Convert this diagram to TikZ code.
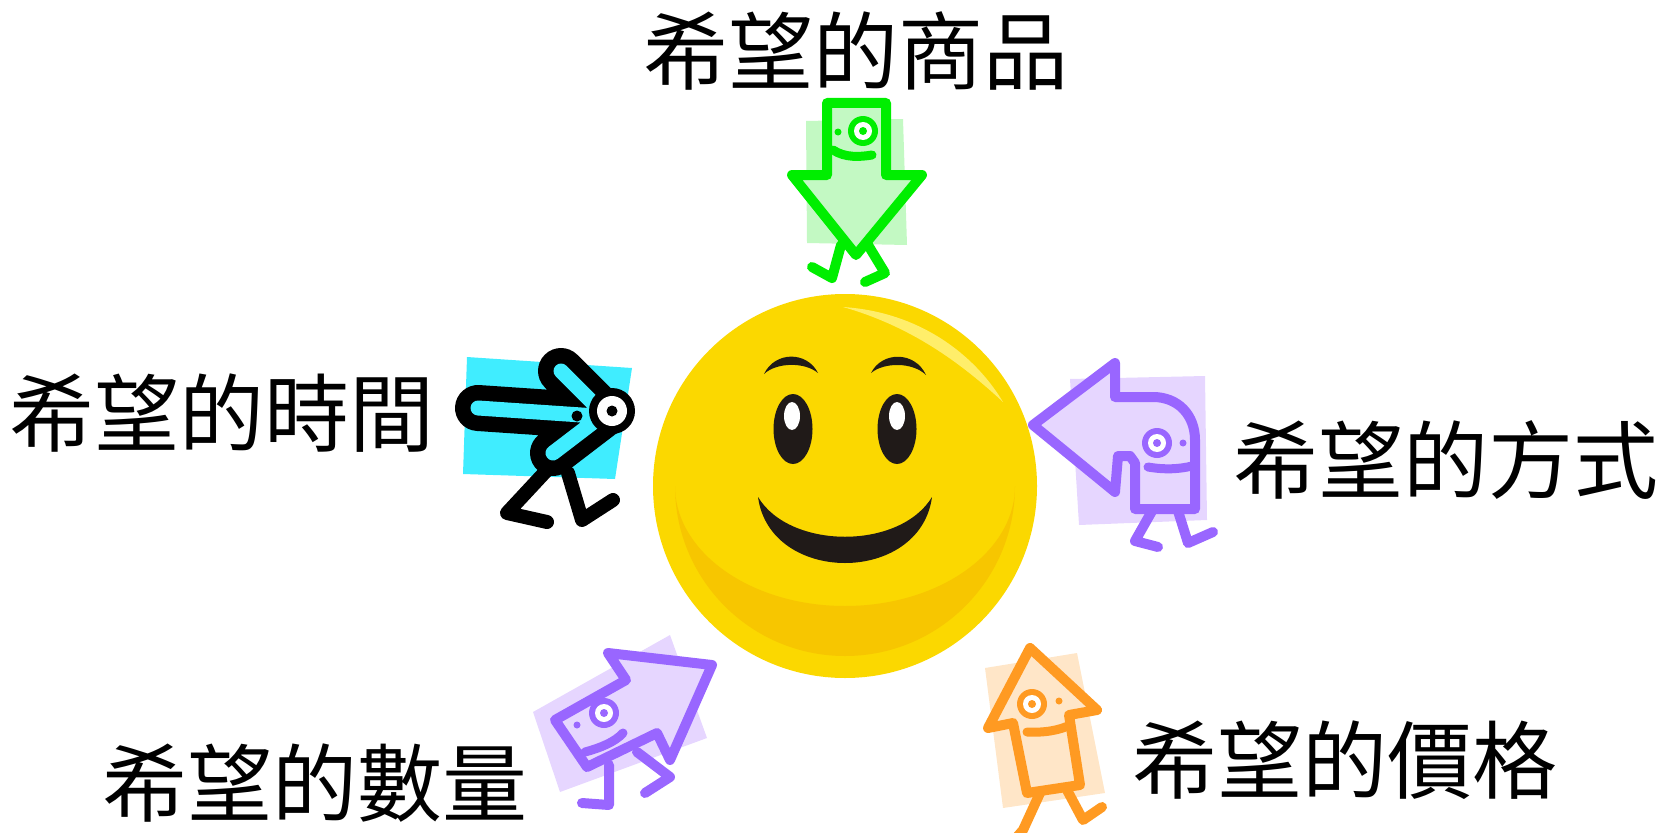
\documentclass[tikz,border=0pt]{standalone}
\usepackage{fontspec}
\newfontfamily\cjk{Noto Sans CJK TC}
\definecolor{sunface}{HTML}{FBD800}
\definecolor{sunshade}{HTML}{F7C600}
\definecolor{sunshine}{HTML}{FFEE6A}
\definecolor{facedark}{HTML}{201A18}
\definecolor{grline}{HTML}{00EE00}
\definecolor{grfill}{HTML}{C3F9C3}
\definecolor{cyfill}{HTML}{40EDFF}
\definecolor{puline}{HTML}{9966FF}
\definecolor{pufill}{HTML}{E6D6FF}
\definecolor{orline}{HTML}{FF9A22}
\definecolor{orfill}{HTML}{FFE6C8}
\begin{document}
\begin{tikzpicture}[x=1pt,y=-1pt,
  caption/.style={font=\cjk\fontsize{85pt}{85pt}\selectfont, inner sep=0pt},
  outline/.style={line width=#1, line join=round, line cap=round},
]
\useasboundingbox (0,0) rectangle (1661,832);

% ---- smiling face ----
\fill[sunface] (845,486) circle[radius=192pt];
\begin{scope}
  \clip (670,486) rectangle (1020,700);
  \fill[sunshade, even odd rule] (845,486) circle[radius=170pt]
    (845,486) ellipse[x radius=170pt, y radius=120pt];
\end{scope}
\fill[sunshine] (843,307) .. controls (920,312) and (975,355) .. (1003,402)
  .. controls (960,362) and (910,326) .. (843,307) -- cycle;
\fill[facedark] (764,374) .. controls (775,351) and (807,351) .. (818,373)
  .. controls (805,362) and (777,362) .. (764,374) -- cycle;
\fill[facedark] (871,373) .. controls (882,351) and (915,351) .. (926,375)
  .. controls (913,362) and (884,362) .. (871,373) -- cycle;
\fill[facedark] (793,429) ellipse[x radius=19.5pt, y radius=35pt];
\fill[facedark] (897,429) ellipse[x radius=19.5pt, y radius=35pt];
\fill[white] (792,416) ellipse[x radius=8pt, y radius=14pt];
\fill[white] (897,416) ellipse[x radius=8pt, y radius=14pt];
\fill[facedark] (758,497) .. controls (770,585) and (920,585) .. (932,497)
  .. controls (900,550) and (790,550) .. (758,497) -- cycle;

% ---- green walker (top) ----
\fill[grfill] (806,121) -- (903,119) -- (907,245) -- (807,243) -- cycle;
\draw[grline, outline=10pt] (841,245) -- (832,278) -- (812,267);
\draw[grline, outline=10pt] (868,245) -- (885,273) -- (865,282);
\draw[grline, fill=grfill, outline=10pt] (827,103) -- (886,103) -- (886,175)
  -- (922,175) -- (856,255) -- (792,175) -- (827,175) -- cycle;
\fill[grline] (863,131) circle[radius=15pt];
\fill[white] (863,131) circle[radius=9pt];
\fill[grline] (863,131) circle[radius=4pt];
\fill[grline] (838,132) circle[radius=3.5pt];
\draw[grline, outline=9pt] (833,150) .. controls (845,158) and (860,157) .. (872,155);

% ---- black walker (left) ----
\fill[cyfill] (467,357) -- (632,368) -- (615,479) -- (463,474) -- cycle;
\draw[black, outline=14pt] (547,470) -- (507,513) -- (547,522);
\draw[black, outline=14pt] (568,473) -- (582,520) -- (613,500);
\draw[black, outline=46pt] (478,408) -- (596,416)
  (561,371) -- (604,414) -- (553,453);
\draw[cyfill, outline=15pt] (478,408) -- (596,416)
  (561,371) -- (604,414) -- (553,453);
\fill[black] (612,411) circle[radius=23pt];
\fill[white] (612,411) circle[radius=15pt];
\fill[black] (612,411) circle[radius=5.5pt];
\fill[black] (577,416) circle[radius=5.5pt];

% ---- purple walker (right) ----
\fill[pufill] (1070,379) -- (1205,376) -- (1207,520) -- (1079,525) -- cycle;
\draw[puline, outline=10pt] (1152,511) -- (1135,541) -- (1158,547);
\draw[puline, outline=10pt] (1178,511) -- (1188,543) -- (1213,532);
\draw[puline, fill=pufill, outline=10pt] (1033,425) -- (1115,363) -- (1115,397)
  -- (1153,397) .. controls (1178,397) and (1195,415) .. (1195,440) -- (1195,509)
  -- (1135,509) -- (1135,463) -- (1130,456) -- (1118,456) -- (1115,492) -- cycle;
\fill[puline] (1157,443) circle[radius=15pt];
\fill[white] (1157,443) circle[radius=9pt];
\fill[puline] (1157,443) circle[radius=4pt];
\fill[puline] (1183,443) circle[radius=3.5pt];
\draw[puline, outline=9pt] (1148,467) .. controls (1165,470) and (1180,469) .. (1192,466);

% ---- purple walker (bottom left) ----
\fill[pufill] (533,712) -- (670,635) -- (707,738) -- (560,792) -- cycle;
\draw[puline, outline=10pt] (609,765) -- (609,805) -- (582,803);
\draw[puline, outline=10pt] (637,752) -- (670,777) -- (645,793);
\draw[puline, fill=pufill, outline=10pt] (712,665) -- (608,653) -- (626,680)
  -- (555,720) -- (587,767) -- (657,733) -- (670,760) -- cycle;
\fill[puline] (604,713) circle[radius=15pt];
\fill[white] (604,713) circle[radius=9pt];
\fill[puline] (604,713) circle[radius=4pt];
\fill[puline] (577,725) circle[radius=3.5pt];
\draw[puline, outline=9pt] (585,752) .. controls (600,748) and (615,742) .. (623,733);

% ---- orange walker (bottom right) ----
\fill[orfill] (985,668) -- (1077,653) -- (1105,793) -- (1003,808) -- cycle;
\draw[orline, outline=10pt] (1040,793) -- (1023,830) -- (1010,845);
\draw[orline, outline=10pt] (1067,790) -- (1083,820) -- (1102,807);
\draw[orline, fill=orfill, outline=10pt] (1030,648) -- (1097,710) -- (1069,715)
  -- (1080,785) -- (1027,793) -- (1013,723) -- (988,728) -- cycle;
\fill[orline] (1032,704) circle[radius=15pt];
\fill[white] (1032,704) circle[radius=9pt];
\fill[orline] (1032,704) circle[radius=4pt];
\fill[orline] (1059,701) circle[radius=3.5pt];
\draw[orline, outline=9pt] (1027,732) .. controls (1045,733) and (1060,730) .. (1070,725);

% ---- captions ----
\node[caption] (goods) at (856,51) {希望的商品};
\node[caption] (timing) at (222,413) {希望的時間};
\node[caption] (manner) at (1446,460) {希望的方式};
\node[caption] (amount) at (315,783) {希望的數量};
\node[caption] (cost) at (1345,760) {希望的價格};
\end{tikzpicture}
\end{document}
